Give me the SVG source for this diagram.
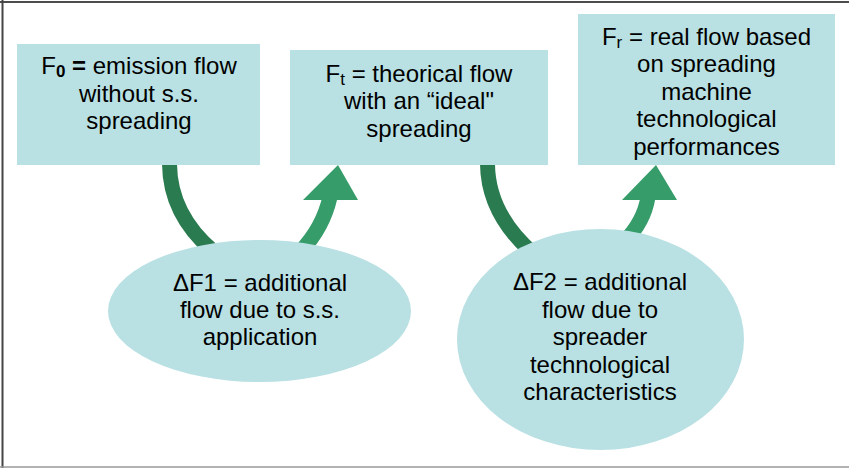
<svg xmlns="http://www.w3.org/2000/svg" width="849" height="468" viewBox="0 0 849 468">
<style>
.node{fill:#b9e0e3}
.t{font-family:"Liberation Sans",Arial,sans-serif;font-size:24px;fill:#000;text-anchor:middle}
.dk{fill:none;stroke:#2a7b50;stroke-width:15}
.lt{fill:none;stroke:#359c6a;stroke-width:15}
.hd{fill:#359c6a}
</style>
<rect x="0" y="0" width="849" height="468" fill="#fff"/>
<line x1="0" y1="2" x2="849" y2="2" stroke="#111" stroke-width="1.6"/>
<line x1="2.5" y1="0" x2="2.5" y2="468" stroke="#444" stroke-width="2"/>
<line x1="0" y1="467" x2="849" y2="467" stroke="#999" stroke-width="1.6"/>
<g id="connectors">
<path class="dk" d="M169.5,164 Q170,215 214,252"/>
<path class="lt" d="M300,252 Q323,228 330,197"/>
<polygon class="hd" points="303,200 358,200 338,165"/>
<path class="dk" d="M487.5,164 Q488,215 535,255"/>
<path class="lt" d="M624,242 Q644,222 648,197"/>
<polygon class="hd" points="622,200 677,200 656,165"/>
</g>
<g id="box-f0">
<rect class="node" x="17" y="44" width="243" height="121"/>
<text class="t" x="139" y="74">F<tspan font-size="17" font-weight="bold" dy="3">0</tspan><tspan dy="-3" font-weight="bold"> =</tspan> emission flow</text>
<text class="t" x="139" y="101.5">without s.s.</text>
<text class="t" x="139" y="129">spreading</text>
</g>
<g id="box-ft">
<rect class="node" x="290" y="50" width="258" height="115"/>
<text class="t" x="419" y="81.5">F<tspan font-size="17" dy="3">t</tspan><tspan dy="-3"> = theorical flow</tspan></text>
<text class="t" x="419" y="109">with an “ideal"</text>
<text class="t" x="419" y="136.5">spreading</text>
</g>
<g id="box-fr">
<rect class="node" x="578" y="14" width="257" height="151"/>
<text class="t" x="706.5" y="44.5">F<tspan font-size="17" dy="3">r</tspan><tspan dy="-3"> = real flow based</tspan></text>
<text class="t" x="706.5" y="72">on spreading</text>
<text class="t" x="706.5" y="99.5">machine</text>
<text class="t" x="706.5" y="127">technological</text>
<text class="t" x="706.5" y="154.5">performances</text>
</g>
<g id="ellipse-df1">
<ellipse class="node" cx="259.5" cy="311" rx="151.5" ry="71"/>
<text class="t" x="260" y="291">ΔF1 = additional</text>
<text class="t" x="260" y="318">flow due to s.s.</text>
<text class="t" x="260" y="345">application</text>
</g>
<g id="ellipse-df2">
<ellipse class="node" cx="600.5" cy="339.5" rx="143.5" ry="110.5"/>
<text class="t" x="600" y="290">ΔF2 = additional</text>
<text class="t" x="600" y="317.5">flow due to</text>
<text class="t" x="600" y="345">spreader</text>
<text class="t" x="600" y="372.5">technological</text>
<text class="t" x="600" y="400">characteristics</text>
</g>
</svg>
